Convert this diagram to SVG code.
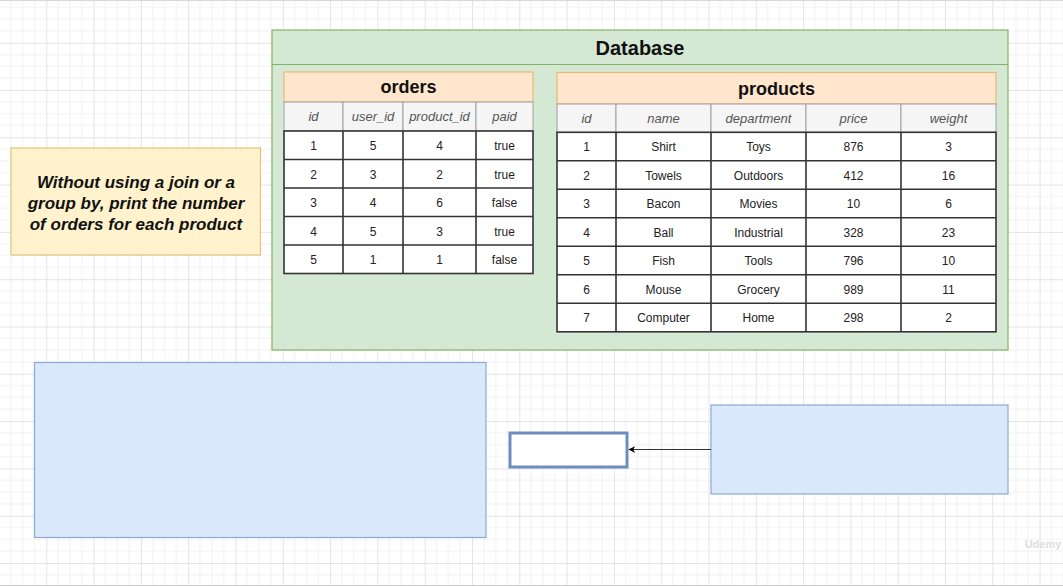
<svg xmlns="http://www.w3.org/2000/svg" width="1063" height="587" viewBox="0 0 1063 587">
  <defs>
    <pattern id="grid" patternUnits="userSpaceOnUse" x="-1" y="-4.6" width="47.3" height="47.3">
      <path d="M11.8 0V47.3M23.65 0V47.3M35.5 0V47.3M0 11.8H47.3M0 23.65H47.3M0 35.5H47.3" stroke="#f1f1f1" stroke-width="1" fill="none"/>
      <path d="M0.5 0V47.3M0 0.5H47.3" stroke="#e4e4e4" stroke-width="1" fill="none"/>
    </pattern>
    <marker id="arrow" viewBox="0 0 10 10" refX="9" refY="5" markerWidth="7" markerHeight="7" orient="auto-start-reverse" markerUnits="userSpaceOnUse">
      <path d="M0 0L10 5L0 10L3 5Z" fill="#000"/>
    </marker>
    <style>
      text { font-family: "Liberation Sans", Arial, sans-serif; text-anchor: middle; }
      .db { fill: #d5e8d4; stroke: #82b366; stroke-width: 1.2; }
      .tbl-title { fill: #ffe6cc; stroke: #e8b877; stroke-width: 1.2; }
      .col-head { fill: #f5f5f5; stroke: #a0a0a0; stroke-width: 1; }
      .cell { fill: #ffffff; stroke: #333333; stroke-width: 1.6; }
      .blue { fill: #dae8fc; stroke: #8ea9d4; stroke-width: 1.2; }
      .note { fill: #fff2cc; stroke: #e0c37c; stroke-width: 1.2; }
      .h-big { font-size: 20px; font-weight: bold; fill: #111; }
      .h-tbl { font-size: 18px; font-weight: bold; fill: #111; }
      .ch { font-size: 13px; font-style: italic; fill: #555; }
      .d { font-size: 12px; fill: #222; }
      .note-t { font-size: 17px; font-weight: bold; font-style: italic; fill: #111; }
    </style>
  </defs>

  <!-- canvas with grid -->
  <rect x="0" y="0" width="1063" height="587" fill="#ffffff"/>
  <rect x="0" y="0" width="1063" height="585" fill="url(#grid)"/>
  <line x1="0" y1="0.5" x2="1063" y2="0.5" stroke="#d8d8d8"/>
  <line x1="0" y1="585.5" x2="1063" y2="585.5" stroke="#cfcfcf"/>

  <!-- Database container -->
  <g id="database">
    <rect class="db" x="272" y="30" width="736" height="320"/>
    <line x1="272" y1="64.5" x2="1008" y2="64.5" stroke="#82b366" stroke-width="1.2"/>
    <text class="h-big" x="640" y="55">Database</text>
  </g>

  <!-- orders table -->
  <g id="orders">
    <rect class="tbl-title" x="284" y="72" width="249" height="30"/>
    <text class="h-tbl" x="408.5" y="93">orders</text>
    <g class="col-head">
      <rect x="284" y="102" width="59" height="29"/>
      <rect x="343" y="102" width="60" height="29"/>
      <rect x="403" y="102" width="73" height="29"/>
      <rect x="476" y="102" width="57" height="29"/>
    </g>
    <text class="ch" x="313.5" y="121">id</text>
    <text class="ch" x="373" y="121">user_id</text>
    <text class="ch" x="439.5" y="121">product_id</text>
    <text class="ch" x="504.5" y="121">paid</text>
    <g>
      <rect class="cell" x="284" y="131" width="249" height="142.5"/>
      <path d="M284 159.5H533M284 188H533M284 216.5H533M284 245H533M343 131V273.5M403 131V273.5M476 131V273.5" stroke="#333" stroke-width="1.6" fill="none"/>
    </g>
    <g class="d">
      <text class="d" x="313.5" y="150">1</text><text class="d" x="373" y="150">5</text><text class="d" x="439.5" y="150">4</text><text class="d" x="504.5" y="150">true</text>
      <text class="d" x="313.5" y="178.5">2</text><text class="d" x="373" y="178.5">3</text><text class="d" x="439.5" y="178.5">2</text><text class="d" x="504.5" y="178.5">true</text>
      <text class="d" x="313.5" y="207">3</text><text class="d" x="373" y="207">4</text><text class="d" x="439.5" y="207">6</text><text class="d" x="504.5" y="207">false</text>
      <text class="d" x="313.5" y="235.5">4</text><text class="d" x="373" y="235.5">5</text><text class="d" x="439.5" y="235.5">3</text><text class="d" x="504.5" y="235.5">true</text>
      <text class="d" x="313.5" y="264">5</text><text class="d" x="373" y="264">1</text><text class="d" x="439.5" y="264">1</text><text class="d" x="504.5" y="264">false</text>
    </g>
  </g>

  <!-- products table -->
  <g id="products">
    <rect class="tbl-title" x="557" y="72.5" width="439" height="31.5"/>
    <text class="h-tbl" x="776.5" y="94.5">products</text>
    <g class="col-head">
      <rect x="557" y="104" width="59" height="28.3"/>
      <rect x="616" y="104" width="95" height="28.3"/>
      <rect x="711" y="104" width="95" height="28.3"/>
      <rect x="806" y="104" width="95" height="28.3"/>
      <rect x="901" y="104" width="95" height="28.3"/>
    </g>
    <text class="ch" x="586.5" y="123">id</text>
    <text class="ch" x="663.5" y="123">name</text>
    <text class="ch" x="758.5" y="123">department</text>
    <text class="ch" x="853.5" y="123">price</text>
    <text class="ch" x="948.5" y="123">weight</text>
    <g>
      <rect class="cell" x="557" y="132.3" width="439" height="199.5"/>
      <path d="M557 160.8H996M557 189.3H996M557 217.8H996M557 246.3H996M557 274.8H996M557 303.3H996M616 132.3V331.8M711 132.3V331.8M806 132.3V331.8M901 132.3V331.8" stroke="#333" stroke-width="1.6" fill="none"/>
    </g>
    <g>
      <text class="d" x="586.5" y="151">1</text><text class="d" x="663.5" y="151">Shirt</text><text class="d" x="758.5" y="151">Toys</text><text class="d" x="853.5" y="151">876</text><text class="d" x="948.5" y="151">3</text>
      <text class="d" x="586.5" y="179.5">2</text><text class="d" x="663.5" y="179.5">Towels</text><text class="d" x="758.5" y="179.5">Outdoors</text><text class="d" x="853.5" y="179.5">412</text><text class="d" x="948.5" y="179.5">16</text>
      <text class="d" x="586.5" y="208">3</text><text class="d" x="663.5" y="208">Bacon</text><text class="d" x="758.5" y="208">Movies</text><text class="d" x="853.5" y="208">10</text><text class="d" x="948.5" y="208">6</text>
      <text class="d" x="586.5" y="236.5">4</text><text class="d" x="663.5" y="236.5">Ball</text><text class="d" x="758.5" y="236.5">Industrial</text><text class="d" x="853.5" y="236.5">328</text><text class="d" x="948.5" y="236.5">23</text>
      <text class="d" x="586.5" y="265">5</text><text class="d" x="663.5" y="265">Fish</text><text class="d" x="758.5" y="265">Tools</text><text class="d" x="853.5" y="265">796</text><text class="d" x="948.5" y="265">10</text>
      <text class="d" x="586.5" y="293.5">6</text><text class="d" x="663.5" y="293.5">Mouse</text><text class="d" x="758.5" y="293.5">Grocery</text><text class="d" x="853.5" y="293.5">989</text><text class="d" x="948.5" y="293.5">11</text>
      <text class="d" x="586.5" y="322">7</text><text class="d" x="663.5" y="322">Computer</text><text class="d" x="758.5" y="322">Home</text><text class="d" x="853.5" y="322">298</text><text class="d" x="948.5" y="322">2</text>
    </g>
  </g>

  <!-- task note -->
  <g id="task-note">
    <rect class="note" x="11" y="148" width="249.5" height="107"/>
    <text class="note-t" x="136" y="188">Without using a join or a</text>
    <text class="note-t" x="136" y="209">group by, print the number</text>
    <text class="note-t" x="136" y="230">of orders for each product</text>
  </g>

  <!-- blank blocks -->
  <g id="left-block">
    <rect class="blue" x="34.5" y="362.5" width="451.5" height="175"/>
  </g>
  <g id="result-box">
    <rect x="510" y="433" width="117" height="34" fill="#ffffff" stroke="#6c8ebf" stroke-width="3"/>
  </g>
  <g id="right-block">
    <rect class="blue" x="711" y="405" width="297" height="89"/>
  </g>

  <!-- connectors -->
  <g id="connectors">
    <line x1="711" y1="449.5" x2="629" y2="449.5" stroke="#333" stroke-width="1.2" marker-end="url(#arrow)"/>
  </g>

  <text x="1043" y="548" style="font-size:11px; fill:#dedede; font-weight:bold;">Udemy</text>
</svg>
